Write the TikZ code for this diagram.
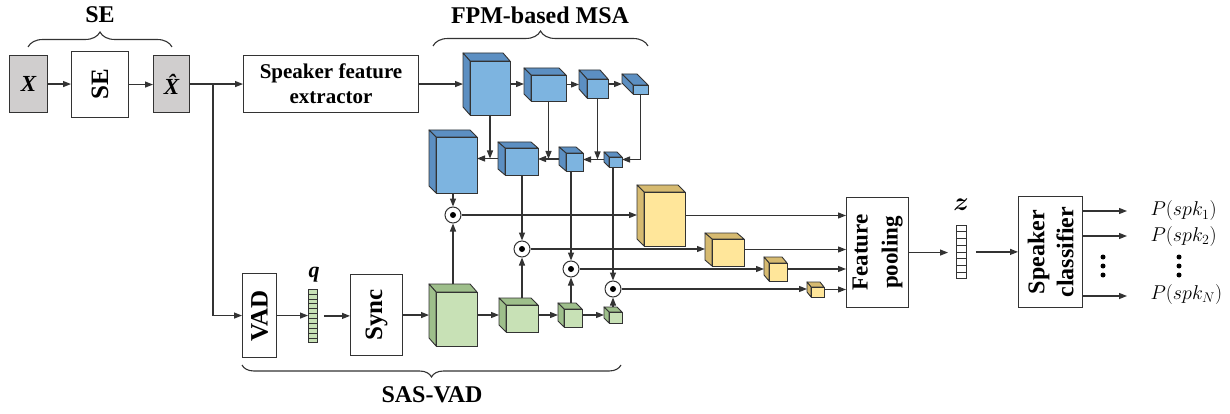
\documentclass[tikz,border=0pt]{standalone}
\usepackage{fix-cm}
\usepackage{fontspec}
\setmainfont{Liberation Serif}
\usepackage{bm}
\usetikzlibrary{arrows.meta,calc,decorations.pathreplacing}
\definecolor{edge}{HTML}{333333}
\definecolor{bluefront}{HTML}{7DB4E0}
\definecolor{bluedark}{HTML}{5C8FC2}
\definecolor{greenfront}{HTML}{C8E1B6}
\definecolor{greendark}{HTML}{9EBF8B}
\definecolor{yellowfront}{HTML}{FFE69A}
\definecolor{yellowdark}{HTML}{D6BA70}
\definecolor{graybox}{HTML}{D0CECE}
% #1 name, #2 x1, #3 y1, #4 x2, #5 y2 (front face), #6 dx, #7 dy (depth), #8 colour prefix
\newcommand{\cuboid}[8]{%
  \filldraw[fill=#8dark, draw=edge, line width=0.9pt, line join=round] (#2,#3) -- (#2-#6,#3-#7) -- (#4-#6,#3-#7) -- (#4,#3) -- cycle;
  \filldraw[fill=#8dark, draw=edge, line width=0.9pt, line join=round] (#2,#3) -- (#2-#6,#3-#7) -- (#2-#6,#5-#7) -- (#2,#5) -- cycle;
  \node[draw=edge, line width=0.9pt, fill=#8front, inner sep=0, outer sep=0, anchor=north west, minimum width={#4-#2}, minimum height={#5-#3}] (#1-f) at (#2,#3) {};
  \node[inner sep=0, outer sep=0, anchor=north west, minimum width={#4-#2+#6}, minimum height={#5-#3+#7}] (#1) at (#2-#6,#3-#7) {};
}
\begin{document}
\begin{tikzpicture}[x=1pt,y=-1pt,
  box/.style={draw=edge, line width=1.1pt, fill=white, inner sep=0, anchor=north west},
  arr/.style={draw=edge, line width=1.3pt, -{Triangle[length=8pt,width=6pt]}},
  odot/.style={circle, draw=edge, line width=1pt, fill=white, minimum size=16pt, inner sep=0,
     path picture={\fill[black] (path picture bounding box.center) circle (3pt);}},
  lbl/.style={font=\fontsize{25}{28}\selectfont\bfseries},
  ttl/.style={font=\fontsize{24}{28}\selectfont\bfseries},
  mybrace/.style={draw=edge, line width=1.1pt, decorate, decoration={brace, amplitude=#1}},
  vecline/.style={draw=edge, line width=0.5pt}
]
\useasboundingbox (0,0) rectangle (1230,414);

% ---------- titles and braces ----------
\node[ttl] (tse) at (100,15) {SE};
\node[ttl] (tfpm) at (540,15) {FPM-based MSA};
\node[ttl] (tsas) at (432,395) {SAS-VAD};
\draw[mybrace=15] (28,47) -- (172,47);
\draw[mybrace=15] (433,46) -- (648,46);
\draw[mybrace=12] (621,365) -- (242,365);

% ---------- front end ----------
\node[box, fill=graybox, minimum width=38, minimum height=57, font=\fontsize{23}{26}\selectfont\bfseries\itshape] (X) at (9,55) {X};
\node[box, minimum width=57, minimum height=66, label={[lbl, rotate=90]center:SE}] (se) at (71,51) {};
\node[box, fill=graybox, minimum width=36, minimum height=57, font=\fontsize{23}{26}\selectfont\bfseries\itshape] (xh) at (153,55) {\^{X}};
\node[box, minimum width=175, minimum height=57, align=center, font=\fontsize{21}{25}\selectfont\bfseries] (sfe) at (243,55) {Speaker feature\\extractor};

\node[box, minimum width=34, minimum height=84, label={[lbl, rotate=90]center:VAD}] (vad) at (242,273) {};
\node[draw=edge, line width=0.8pt, fill=greenfront, inner sep=0, anchor=north west, minimum width=9, minimum height=53] (qv) at (308,289) {};
\foreach \i in {1,...,10} \draw[vecline] ($(qv.north west)!\i/11!(qv.south west)$) -- ($(qv.north east)!\i/11!(qv.south east)$);
\node[font=\fontsize{22}{24}\selectfont\bfseries\itshape] (ql) at (314,275) {q};
\node[box, minimum width=52, minimum height=81, label={[lbl, rotate=90]center:Sync}] (sync) at (350,274) {};

% ---------- blue cubes (top row) ----------
\cuboid{c1}{470}{61}{510}{115}{7}{8}{blue}
\cuboid{c2}{531}{75}{566}{101}{7}{7}{blue}
\cuboid{c3}{587}{79}{608}{98}{8}{9}{blue}
\cuboid{c4}{633}{85}{648}{94}{11}{11}{blue}
% ---------- blue cubes (second row) ----------
\cuboid{A}{436}{137}{477}{193}{7}{7}{blue}
\cuboid{B}{505}{148}{538}{175}{7}{6}{blue}
\cuboid{C}{566}{153}{583}{171}{7}{6}{blue}
\cuboid{D}{609}{157}{622}{167}{5}{5}{blue}
% ---------- green cubes ----------
\cuboid{g1}{436}{292}{477}{346}{7}{8}{green}
\cuboid{g2}{506}{305}{538}{332}{7}{7}{green}
\cuboid{g3}{564}{309}{582}{327}{6}{6}{green}
\cuboid{g4}{609}{312}{622}{323}{5}{5}{green}
% ---------- yellow cubes ----------
\cuboid{y1}{644}{192}{685}{246}{7}{7}{yellow}
\cuboid{y2}{712}{239}{744}{266}{7}{6}{yellow}
\cuboid{y3}{769}{263}{787}{281}{5}{6}{yellow}
\cuboid{y4}{811}{287}{824}{297}{4}{5}{yellow}

% ---------- circles ----------
\node[odot] (o1) at (453,215) {};
\node[odot] (o2) at (522,249) {};
\node[odot] (o3) at (571,269) {};
\node[odot] (o4) at (613,289) {};

% ---------- pooling / classifier ----------
\node[box, minimum width=62, minimum height=110,
  label={[rotate=90, align=center, font=\fontsize{23}{30}\selectfont\bfseries]center:{Feature\\pooling}}] (fp) at (846,197) {};
\node[draw=edge, line width=0.8pt, fill=white, inner sep=0, anchor=north west, minimum width=10, minimum height=53] (zv) at (956,225) {};
\foreach \i in {1,...,7} \draw[vecline] ($(zv.north west)!\i/8!(zv.south west)$) -- ($(zv.north east)!\i/8!(zv.south east)$);
\node[font=\fontsize{26}{30}\selectfont] (zl) at (961,205) {$\bm{z}$};
\node[box, minimum width=64, minimum height=111,
  label={[rotate=90, align=center, font=\fontsize{24}{29}\selectfont\bfseries]center:{Speaker\\classifier}}] (cls) at (1018,196) {};

\node[anchor=west, font=\fontsize{20}{24}\selectfont] (p1) at (1147,211) {$P(spk_1)$};
\node[anchor=west, font=\fontsize{20}{24}\selectfont] (p2) at (1147,236) {$P(spk_2)$};
\node[anchor=west, font=\fontsize{20}{24}\selectfont] (pn) at (1147,294) {$P(spk_N)$};

\foreach \yy in {257,266,275} {
  \fill[black] (1103,\yy) circle (2.5pt);
  \fill[black] (1179,\yy) circle (2.5pt);
}

% ---------- connectors ----------
\draw[arr] (X.east) -- (X.east -| se.west);
\draw[arr] (se.east) -- (se.east -| xh.west);
\draw[arr] (xh.east) -- (xh.east -| sfe.west);
\coordinate (br) at ($(xh.east)!0.43!(xh.east -| sfe.west)$);
\draw[arr] (br) |- (vad.west);
\draw[arr] (sfe.east) -- (sfe.east -| c1.west);

\draw[arr] (c1.east) -- (c1.east -| c2.west);
\draw[arr] (c2.east) -- (c2.east -| c3.west);
\draw[arr] (c3.east) -- (c3.east -| c4.west);

\draw[arr] (B.west) -- (B.west -| A.east);
\draw[arr] (C.west) -- (C.west -| B.east);
\draw[arr] (D.west) -- (D.west -| C.east);
\draw[arr] (c1-f.south) -- (c1-f.south |- B.west);
\draw[arr] (c2-f.south) -- (c2-f.south |- C.west);
\draw[arr] (c3-f.south) -- (c3-f.south |- D.west);
\draw[arr] (c4-f.south) |- (D.east);

\coordinate (qo) at ($(qv.east)+(6,0)$);
\draw[arr] (vad.east) -- (vad.east -| qv.west);
\draw[arr] (qo) -- (qo -| sync.west);
\draw[arr] (sync.east) -- (sync.east -| g1.west);
\draw[arr] (g1.east) -- (g1.east -| g2.west);
\draw[arr] (g2.east) -- (g2.east -| g3.west);
\draw[arr] (g3.east) -- (g3.east -| g4.west);

\draw[arr] (o1 |- A-f.south) -- (o1.north);
\draw[arr] (o2 |- B-f.south) -- (o2.north);
\draw[arr] (o3 |- C-f.south) -- (o3.north);
\draw[arr] (o4 |- D-f.south) -- (o4.north);
\draw[arr] (o1 |- g1.north) -- (o1.south);
\draw[arr] (o2 |- g2.north) -- (o2.south);
\draw[arr] (o3 |- g3.north) -- (o3.south);
\draw[arr] (o4 |- g4.north) -- (o4.south);

\draw[arr] (o1.east) -- (o1.east -| y1.west);
\draw[arr] (o2.east) -- (o2.east -| y2.west);
\draw[arr] (o3.east) -- (o3.east -| y3.west);
\draw[arr] (o4.east) -- (o4.east -| y4.west);

\draw[arr] (y1.east) -- (y1.east -| fp.west);
\draw[arr] (y2.east) -- (y2.east -| fp.west);
\draw[arr] (y3.east) -- (y3.east -| fp.west);
\draw[arr] (y4.east) -- (y4.east -| fp.west);

\coordinate (zi) at ($(fp.east -| zv.west)+(-8,0)$);
\coordinate (zo) at ($(zv.east)+(9,0)$);
\draw[arr] (fp.east) -- (zi);
\draw[arr] (zo) -- (zo -| cls.west);
\coordinate (e1) at ($(p1.west)+(-20,0)$);
\coordinate (e2) at ($(p2.west)+(-20,0)$);
\coordinate (en) at ($(pn.west)+(-20,2)$);
\draw[arr] (cls.east |- e1) -- (e1);
\draw[arr] (cls.east |- e2) -- (e2);
\draw[arr] (cls.east |- en) -- (en);
\end{tikzpicture}
\end{document}
